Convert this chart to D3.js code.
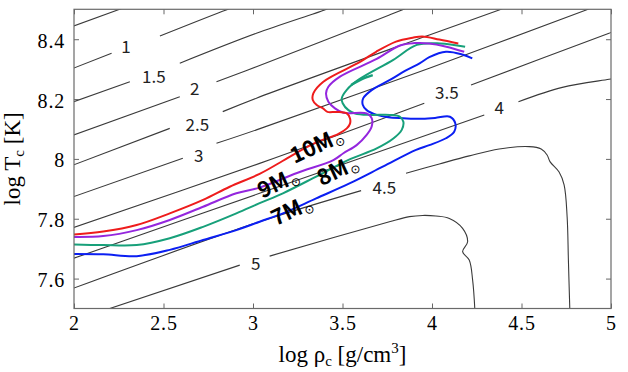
<!DOCTYPE html>
<html><head><meta charset="utf-8">
<script src="https://cdn.jsdelivr.net/npm/d3@7"></script>
<style>body{margin:0;background:#fff} svg{display:block}
.tk text{font-family:"Liberation Serif",serif !important;}
</style>
</head><body><svg id="c" width="628" height="372"></svg>
<script>
// ---- data ----
const xTicks = [2, 2.5, 3, 3.5, 4, 4.5, 5];
const yTicks = [7.6, 7.8, 8, 8.2, 8.4];

// contour lines (log rho, log T); each contour split into segments (gaps at labels)
const contourSegments = [
  [[[1.98,8.440],[2.30,8.510]]],
  [[[1.98,8.299],[2.21,8.353]],[[2.48,8.411],[2.85,8.498],[2.90,8.508]]],
  [[[1.98,8.187],[2.312,8.258]],[[2.591,8.320],[3.019,8.420],[3.40,8.498],[3.45,8.510]]],
  [[[1.98,8.076],[2.591,8.208]],[[2.796,8.258],[3.019,8.308],[3.762,8.481],[3.85,8.502]]],
  [[[1.98,7.976],[2.535,8.102]],[[2.831,8.158],[3.019,8.203],[3.985,8.414],[4.375,8.498],[4.45,8.515]]],
  [[[1.98,7.870],[2.608,8.002]],[[2.796,8.052],[3.019,8.097],[3.985,8.303],[4.861,8.498],[4.95,8.518]]],
  [[[1.98,7.767],[3.037,7.985],[3.957,8.186]],[[4.218,8.247],[4.989,8.420],[5.05,8.433]]],
  [[[1.98,7.664],[3.037,7.885],[4.292,8.147]],[[4.483,8.191],[4.728,8.239],[4.989,8.266],[5.05,8.272]]],
  [[[1.98,7.564],[3.037,7.790],[3.604,7.894]],[[3.855,7.952],[4.041,7.983],[4.208,8.010],[4.375,8.033],[4.543,8.041],[4.610,8.033],[4.643,8.013],[4.660,7.990],[4.710,7.956],[4.738,7.913],[4.755,7.806],[4.762,7.662],[4.770,7.495],[4.771,7.48]]],
  [[[2.15,7.49],[2.926,7.645]],[[3.093,7.675],[3.762,7.790],[3.874,7.807],[3.948,7.811],[4.022,7.809],[4.097,7.801],[4.171,7.768],[4.199,7.723],[4.171,7.690],[4.208,7.662],[4.227,7.595],[4.239,7.5],[4.24,7.48]]]
];
const contourLabels = ["1","1.5","2","2.5","3","3.5","4","4.5","5"];
const contourLabelPos = [[2.290,8.374],[2.446,8.273],[2.675,8.234],[2.689,8.113],[2.697,8.010],[4.083,8.222],[4.375,8.172],[3.734,7.902],[3.015,7.649]];

// evolutionary tracks (log rho_c, log T_c)
const track10M = [[2.0,7.747],[2.163,7.757],[2.350,7.779],[2.535,7.818],[2.721,7.863],[2.870,7.907],[3.037,7.950],[3.165,7.993],[3.260,8.026],[3.372,8.060],[3.475,8.083],[3.524,8.102],[3.542,8.118],[3.542,8.135],[3.524,8.152],[3.468,8.157],[3.416,8.157],[3.393,8.168],[3.356,8.180],[3.334,8.197],[3.337,8.219],[3.393,8.258],[3.598,8.324],[3.688,8.358],[3.799,8.392],[3.892,8.405],[3.946,8.409],[4.041,8.399],[4.147,8.386]];
const track9M = [[2.0,7.739],[2.163,7.742],[2.350,7.762],[2.535,7.796],[2.721,7.840],[2.907,7.885],[3.037,7.904],[3.246,7.953],[3.449,7.996],[3.505,8.019],[3.579,8.046],[3.635,8.080],[3.663,8.108],[3.663,8.136],[3.635,8.152],[3.505,8.154],[3.458,8.169],[3.421,8.191],[3.408,8.219],[3.421,8.241],[3.486,8.275],[3.691,8.334],[3.821,8.379],[3.901,8.387],[3.985,8.386],[4.080,8.375],[4.180,8.358]];
const track8M = [[2.0,7.714],[2.163,7.712],[2.350,7.712],[2.535,7.735],[2.721,7.773],[2.907,7.818],[3.037,7.852],[3.167,7.885],[3.353,7.941],[3.531,7.996],[3.691,8.035],[3.784,8.068],[3.831,8.097],[3.840,8.124],[3.821,8.141],[3.765,8.147],[3.654,8.147],[3.570,8.152],[3.533,8.163],[3.501,8.186],[3.496,8.203],[3.524,8.231],[3.588,8.264],[3.784,8.331],[3.915,8.381],[4.045,8.386],[4.185,8.375]];
const track8MLoop = [[3.548,8.247],[3.606,8.266],[3.669,8.280]];
const track7M = [[2.0,7.682],[2.163,7.681],[2.350,7.675],[2.535,7.696],[2.721,7.729],[2.907,7.762],[3.037,7.790],[3.167,7.818],[3.353,7.868],[3.539,7.918],[3.725,7.974],[3.911,8.030],[3.985,8.046],[4.078,8.069],[4.124,8.091],[4.130,8.119],[4.100,8.141],[4.017,8.137],[3.933,8.134],[3.840,8.136],[3.756,8.139],[3.691,8.147],[3.635,8.163],[3.613,8.181],[3.616,8.203],[3.663,8.230],[3.765,8.264],[3.849,8.294],[3.933,8.320],[3.985,8.340],[4.078,8.358],[4.169,8.349],[4.225,8.336]];
const trackNames = ["7M", "8M", "9M", "10M"];
const trackColors = ["#0b1ff2", "#17a07a", "#9426de", "#ee1c1c"];
const trackLabelPos = [[3.215,7.829],[3.472,7.963],[3.140,7.921],[3.355,8.046]];

// ---- drawing ----
const W = 628, H = 372;
const L = 74, R = 611, T = 9.3, B = 308.5;
const x = d3.scaleLinear().domain([2, 5]).range([L, R]);
const y = d3.scaleLinear().domain([7.5, 8.5]).range([B, T]);
const svg = d3.select("#c");
svg.append("rect").attr("width", W).attr("height", H).attr("fill", "#fff");

svg.append("defs").append("clipPath").attr("id", "clip")
  .append("rect").attr("x", L).attr("y", T).attr("width", R - L).attr("height", B - T);

const plot = svg.append("g").attr("clip-path", "url(#clip)");
const cline = d3.line().x(d => x(d[0])).y(d => y(d[1])).curve(d3.curveCatmullRom.alpha(0.5));

contourSegments.forEach(segs => {
  segs.forEach(s => {
    plot.append("path").attr("d", cline(s)).attr("fill", "none")
      .attr("stroke", "#3a3a3a").attr("stroke-width", 1.1);
  });
});

plot.selectAll("text.cl").data(contourLabels).join("text")
  .attr("class", "cl")
  .attr("x", (d, i) => x(contourLabelPos[i][0]))
  .attr("y", (d, i) => y(contourLabelPos[i][1]))
  .attr("dy", "0.36em")
  .attr("text-anchor", "middle")
  .attr("font-family", "'Noto Sans CJK JP', 'Noto Sans', sans-serif")
  .attr("font-size", 17)
  .attr("fill", "#222")
  .text(d => d);

const tline = d3.line().x(d => x(d[0])).y(d => y(d[1])).curve(d3.curveCatmullRom.alpha(0.5));
const tracks = [track7M, track8M, track9M, track10M];
tracks.forEach((t, i) => {
  plot.append("path").attr("d", tline(t)).attr("fill", "none")
    .attr("stroke", trackColors[i]).attr("stroke-width", 2).attr("stroke-linejoin", "round");
});
plot.append("path").attr("d", tline(track8MLoop)).attr("fill", "none")
  .attr("stroke", trackColors[1]).attr("stroke-width", 2.4);

trackNames.forEach((n, i) => {
  const g = svg.append("g")
    .attr("transform", `translate(${x(trackLabelPos[i][0])},${y(trackLabelPos[i][1])}) rotate(-25)`);
  const t = g.append("text").attr("text-anchor", "middle").attr("dy", "0.36em")
    .attr("font-family", "'Noto Sans CJK JP', 'Noto Sans', sans-serif").attr("font-weight", "bold")
    .attr("font-size", 22).attr("fill", "#000");
  t.append("tspan").text(n);
  t.append("tspan").attr("font-family", "'DejaVu Sans', sans-serif").attr("font-weight", "normal")
    .attr("font-size", 12).attr("dx", 1).attr("dy", 3).text("\u2299");
});

// axes
const serif = "'Liberation Serif', serif";
const ax = svg.append("g").attr("class", "tk").attr("transform", `translate(0,${B})`)
  .call(d3.axisBottom(x).tickValues(xTicks).tickSizeInner(-5).tickSizeOuter(0).tickPadding(7).tickFormat(d3.format("")));
const ay = svg.append("g").attr("class", "tk").attr("transform", `translate(${L},0)`)
  .call(d3.axisLeft(y).tickValues(yTicks).tickSizeInner(-5).tickSizeOuter(0).tickPadding(9).tickFormat(d3.format("")));
const axT = svg.append("g").attr("transform", `translate(0,${T})`)
  .call(d3.axisTop(x).tickValues(xTicks).tickSizeInner(-5).tickSizeOuter(0).tickFormat(""));
const ayR = svg.append("g").attr("transform", `translate(${R},0)`)
  .call(d3.axisRight(y).tickValues(yTicks).tickSizeInner(-5).tickSizeOuter(0).tickFormat(""));
[ax, ay, axT, ayR].forEach(a => {
  a.select(".domain").remove();
  a.selectAll("line").attr("stroke", "#666");
  a.selectAll("text").style("font-family", serif).style("font-size", "20px")
    .attr("fill", "#000").attr("letter-spacing", 0.8);
});
ay.selectAll("text").attr("dy", "0.40em");

svg.append("rect").attr("x", L).attr("y", T).attr("width", R - L).attr("height", B - T)
  .attr("fill", "none").attr("stroke", "#6a6a6a").attr("stroke-width", 1.2);

// axis titles
const xt = svg.append("text").attr("x", (L + R) / 2).attr("y", 362)
  .attr("text-anchor", "middle").attr("font-family", serif).attr("font-size", 23).attr("fill", "#000");
xt.append("tspan").text("log \u03c1");
xt.append("tspan").attr("font-size", 15).attr("dy", 4).text("c");
xt.append("tspan").attr("dy", -4).text(" [g/cm");
xt.append("tspan").attr("font-size", 15).attr("dy", -9).text("3");
xt.append("tspan").attr("dy", 9).text("]");

const yt = svg.append("text").attr("transform", `translate(19.5,${(T + B) / 2}) rotate(-90)`)
  .attr("text-anchor", "middle").attr("font-family", serif).attr("font-size", 23).attr("fill", "#000");
yt.append("tspan").text("log T");
yt.append("tspan").attr("font-size", 15).attr("dy", 4).text("c");
yt.append("tspan").attr("dy", -4).text(" [K]");
</script></body></html>
